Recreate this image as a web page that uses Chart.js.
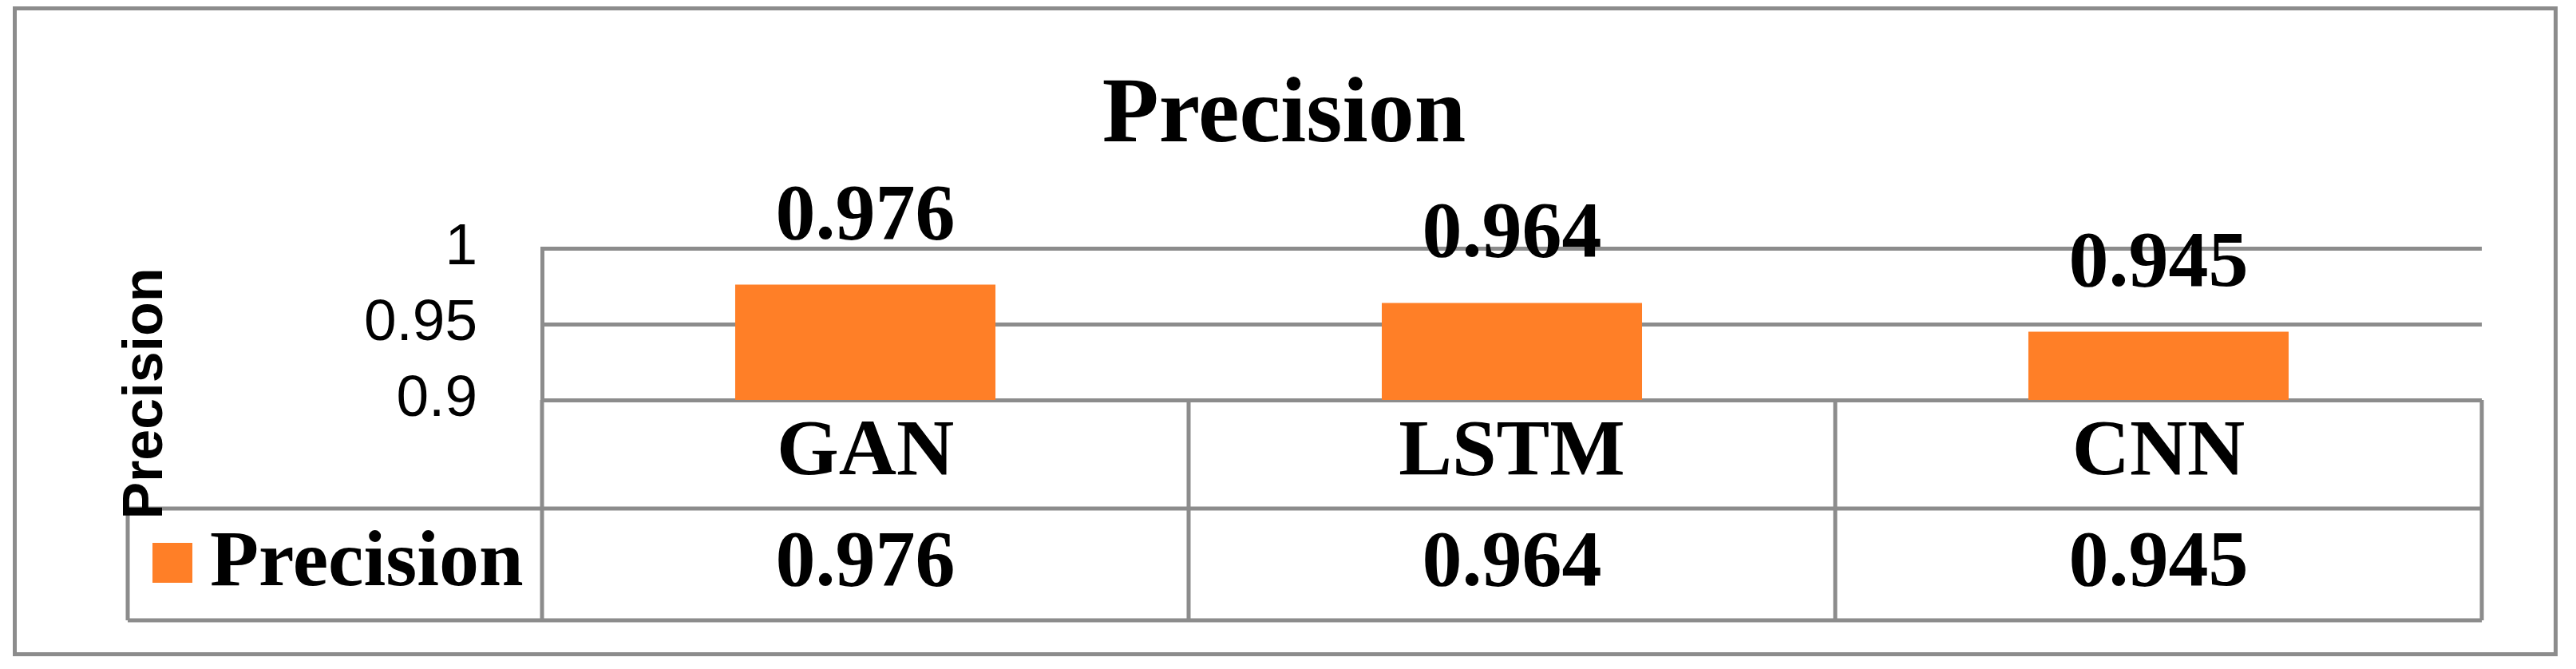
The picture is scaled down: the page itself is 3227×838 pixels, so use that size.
<!DOCTYPE html>
<html>
<head>
<meta charset="utf-8">
<script src="https://cdn.jsdelivr.net/npm/chart.js@4.4.1/dist/chart.umd.min.js"></script>
<style>
  html, body { margin: 0; padding: 0; background: #fff; }
  canvas { display: block; }
</style>
</head>
<body>
<canvas id="precisionChart" width="3227" height="838"></canvas>
<script>
// data
const categories = ["GAN", "LSTM", "CNN"];
const precision = [0.976, 0.964, 0.945];
const yTicks = [0.9, 0.95, 1];
const seriesName = "Precision";
const chartTitle = "Precision";
const yTitle = "Precision";

const gray = "#8c8c8c";
const orange = "#FF7F27";
const serif = "'Liberation Serif', 'Times New Roman', serif";
const sans = "'Liberation Sans', Arial, sans-serif";

// data table + labels under the plot, the way the spreadsheet drew it
const tablePlugin = {
  id: "dataTable",
  afterDraw(chart) {
    const { ctx, chartArea, scales } = chart;
    const x = scales.x;
    const colW = x.width / categories.length;
    const row1 = chartArea.bottom;
    const row2 = row1 + 136;
    const row3 = row2 + 140;
    const legLeft = 160;
    const rowMid = (row2 + row3) / 2;

    ctx.save();
    ctx.strokeStyle = gray;
    ctx.lineWidth = 5;
    ctx.beginPath();
    ctx.moveTo(legLeft, row2);
    ctx.lineTo(x.right, row2);
    ctx.moveTo(legLeft, row3);
    ctx.lineTo(x.right, row3);
    for (let k = 0; k <= categories.length; k++) {
      const px = x.left + k * colW;
      ctx.moveTo(px, row1);
      ctx.lineTo(px, row3);
    }
    ctx.moveTo(legLeft, row2);
    ctx.lineTo(legLeft, row3);
    ctx.stroke();
    ctx.strokeRect(18.5, 10.5, 3183, 809);

    // values row
    ctx.fillStyle = "#000";
    ctx.font = "bold 100px " + serif;
    ctx.textAlign = "center";
    ctx.textBaseline = "middle";
    precision.forEach((v, i) => {
      ctx.fillText(v.toFixed(3), x.getPixelForValue(i), rowMid);
    });

    // legend key in the table
    ctx.fillStyle = orange;
    ctx.fillRect(191, 680, 50, 50);
    ctx.fillStyle = "#000";
    ctx.textAlign = "left";
    ctx.fillText(seriesName, 263, rowMid);

    // labels over the bars
    ctx.textAlign = "center";
    ctx.textBaseline = "alphabetic";
    chart.getDatasetMeta(0).data.forEach((bar, i) => {
      ctx.fillText(precision[i].toFixed(3), bar.x, bar.y - 58);
    });

    // y axis title, sits lower than the plot like in the original
    ctx.translate(203, 493);
    ctx.rotate(-Math.PI / 2);
    ctx.font = "bold 70px " + sans;
    ctx.fillText(yTitle, 0, 0);
    ctx.restore();
  }
};

const ctx = document.getElementById("precisionChart").getContext("2d");
const myChart = new Chart(ctx, {
  type: "bar",
  data: {
    labels: categories,
    datasets: [
      {
        label: seriesName,
        data: precision,
        backgroundColor: orange,
        borderWidth: 0,
        categoryPercentage: 1,
        barPercentage: 0.4025
      }
    ]
  },
  options: {
    responsive: false,
    devicePixelRatio: 1,
    animation: false,
    layout: {
      padding: { left: 108, right: 118, top: 0, bottom: 0 }
    },
    plugins: {
      legend: { display: false },
      tooltip: { enabled: false },
      title: {
        display: true,
        text: chartTitle,
        color: "#000",
        font: { family: serif, size: 116, weight: "bold", lineHeight: 1.2 },
        padding: { top: 77.2, bottom: 94.6 }
      }
    },
    scales: {
      x: {
        grid: { display: false, drawTicks: false },
        border: { display: false },
        ticks: {
          color: "#000",
          padding: 7,
          font: { family: serif, size: 100, weight: "bold" }
        },
        afterFit(s) { s.height = 337; }
      },
      y: {
        min: 0.9,
        max: 1,
        grid: { color: gray, lineWidth: 5, drawTicks: false },
        border: { display: true, color: gray, width: 5 },
        ticks: {
          color: "#000",
          padding: 81,
          font: { family: sans, size: 73 },
          callback: v => String(Number(v.toFixed(2)))
        },
        afterBuildTicks(s) { s.ticks = yTicks.map(v => ({ value: v })); },
        afterFit(s) { s.width = 571; }
      }
    }
  },
  plugins: [tablePlugin]
});
</script>
</body>
</html>
